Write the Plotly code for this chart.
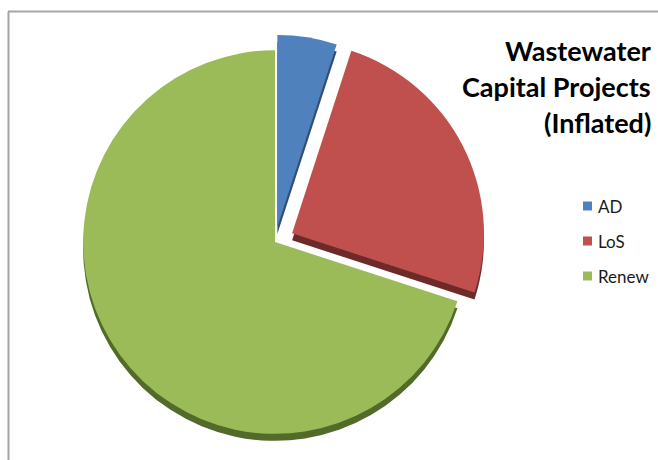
import plotly.graph_objects as go

# Share of wastewater capital project spending by driver
categories = ["AD", "LoS", "Renew"]
shares = [5, 25, 70]
colors = ["#4f81bd", "#c0504d", "#9bbb59"]
edge_colors = ["#2f4f78", "#6e2a28", "#526a2a"]
pulls = [0.08, 0.10, 0.0]

title_lines = ["Wastewater", "Capital Projects", "(Inflated)"]

W, H = 658, 460


def px(x):
    return x / W


def py(y):
    return 1 - y / H


# pie centre and outer extent (domain includes room for the exploded slices)
dom_x = [px(63), px(487)]
dom_y = [py(453), py(31)]
depth = 7  # pixel depth of the extruded rim

fig = go.Figure()

# darker copy underneath, shifted down to give the slices a rim
fig.add_trace(go.Pie(
    labels=categories, values=shares, sort=False, direction="clockwise",
    rotation=0, pull=pulls, textinfo="none", hoverinfo="skip",
    marker=dict(colors=edge_colors, line=dict(width=0)),
    domain=dict(x=dom_x, y=[dom_y[0] - depth / H, dom_y[1] - depth / H]),
    showlegend=False,
))

fig.add_trace(go.Pie(
    labels=categories, values=shares, sort=False, direction="clockwise",
    rotation=0, pull=pulls, textinfo="none",
    marker=dict(colors=colors, line=dict(width=0)),
    domain=dict(x=dom_x, y=dom_y),
    showlegend=False,
))

# title, right aligned, one line per annotation
for i, line in enumerate(title_lines):
    fig.add_annotation(
        text=f"<b>{line}</b>", x=px(653), y=py(50 + 36 * i),
        xref="paper", yref="paper", xanchor="right", yanchor="middle",
        showarrow=False, font=dict(family="Lato", size=27, color="#000000"),
    )

# legend: coloured square + label for each category
for i, (cat, col) in enumerate(zip(categories, colors)):
    yc = 206 + 35 * i
    fig.add_shape(
        type="rect", xref="paper", yref="paper",
        x0=px(583), x1=px(592), y0=py(yc + 4.5), y1=py(yc - 4.5),
        fillcolor=col, line=dict(width=0),
    )
    fig.add_annotation(
        text=cat, x=px(596), y=py(yc), xref="paper", yref="paper",
        xanchor="left", yanchor="middle", showarrow=False,
        font=dict(family="Lato", size=17, color="#1a1a1a"),
    )

# chart frame
fig.add_shape(type="line", xref="paper", yref="paper",
              x0=px(8), x1=1.01, y0=py(11.5), y1=py(11.5),
              line=dict(color="#a6a6a6", width=2))
fig.add_shape(type="line", xref="paper", yref="paper",
              x0=px(8.5), x1=px(8.5), y0=py(11.5), y1=-0.01,
              line=dict(color="#a6a6a6", width=2))

fig.update_layout(
    width=W, height=H,
    margin=dict(l=0, r=0, t=0, b=0),
    paper_bgcolor="#ffffff", plot_bgcolor="#ffffff",
)

fig.write_html("out.html")
